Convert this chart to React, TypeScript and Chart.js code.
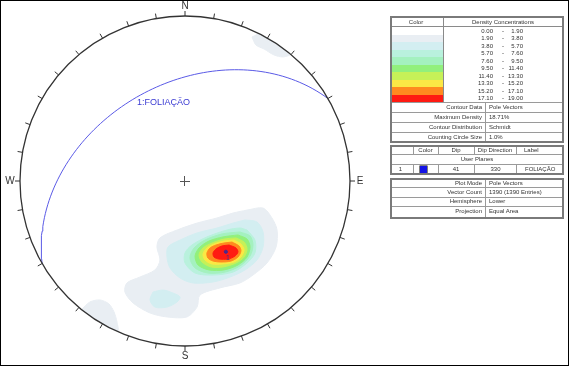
import React, { useEffect, useRef } from "react";
import { Chart, registerables } from "chart.js";

Chart.register(...registerables);

// ---------- DATA ----------
const densityRanges: [string, string][] = [
  ["0.00", "1.90"], ["1.90", "3.80"], ["3.80", "5.70"], ["5.70", "7.60"], ["7.60", "9.50"],
  ["9.50", "11.40"], ["11.40", "13.30"], ["13.30", "15.20"], ["15.20", "17.10"], ["17.10", "19.00"],
];
const densityColors = [
  "#ffffff", "#e9eef3", "#d3eef1", "#b9f1dd", "#a4f1bf",
  "#92f07c", "#c6f158", "#fbe845", "#ff8a1f", "#ff1a12",
];
const contourInfo: [string, string][] = [
  ["Contour Data", "Pole Vectors"],
  ["Maximum Density", "18.71%"],
  ["Contour Distribution", "Schmidt"],
  ["Counting Circle Size", "1.0%"],
];
const planeHeaders = ["", "Color", "Dip", "Dip Direction", "Label"];
const planeId = 1;
const planeColor = "#1414e6";
const planeDip = 41;
const planeDipDir = 330;
const planeLabel = "FOLIAÇÃO";
const plotInfo: [string, string][] = [
  ["Plot Mode", "Pole Vectors"],
  ["Vector Count", "1390 (1390 Entries)"],
  ["Hemisphere", "Lower"],
  ["Projection", "Equal Area"],
];
const compassLabels: [string, number][] = [["N", 0], ["E", 90], ["S", 180], ["W", 270]];

// contour polygons in net units (radius = 1), x = east, y = north
const grayMain = [
  [0.376, -0.176], [0.473, -0.164], [0.527, -0.224], [0.558, -0.297], [0.552, -0.4], [0.497, -0.497],
  [0.412, -0.57], [0.333, -0.618], [0.212, -0.648], [0.091, -0.691], [0.073, -0.764], [0.012, -0.824],
  [-0.109, -0.824], [-0.212, -0.8], [-0.315, -0.739], [-0.364, -0.673], [-0.352, -0.618], [-0.273, -0.582],
  [-0.182, -0.539], [-0.152, -0.479], [-0.17, -0.4], [-0.152, -0.345], [-0.048, -0.297], [0.073, -0.255],
  [0.194, -0.224], [0.291, -0.194],
];
const grayNE = [
  [0.406, 0.873], [0.467, 0.897], [0.552, 0.867], [0.612, 0.818], [0.642, 0.77],
  [0.594, 0.752], [0.539, 0.764], [0.479, 0.8], [0.43, 0.824],
];
const graySW = [
  [-0.624, -0.776], [-0.576, -0.733], [-0.515, -0.721], [-0.461, -0.745], [-0.43, -0.794],
  [-0.412, -0.855], [-0.406, -0.915], [-0.455, -0.891], [-0.515, -0.855], [-0.576, -0.818],
];
const cyanMain = [
  [0.364, -0.236], [0.436, -0.248], [0.473, -0.309], [0.473, -0.4], [0.436, -0.479], [0.364, -0.539],
  [0.273, -0.582], [0.17, -0.612], [0.048, -0.618], [-0.03, -0.588], [-0.091, -0.527], [-0.109, -0.461],
  [-0.103, -0.4], [-0.03, -0.358], [0.073, -0.315], [0.194, -0.285], [0.291, -0.255],
];
const cyanPatch = [
  [-0.194, -0.673], [-0.133, -0.661], [-0.073, -0.679], [-0.03, -0.703],
  [-0.048, -0.733], [-0.109, -0.764], [-0.182, -0.764], [-0.212, -0.721],
];
const aqua = [
  [0.376, -0.297], [0.424, -0.358], [0.424, -0.436], [0.376, -0.497], [0.291, -0.552], [0.17, -0.57],
  [0.061, -0.558], [0.0, -0.497], [0.0, -0.436], [0.042, -0.388], [0.133, -0.339], [0.255, -0.297], [0.333, -0.285],
];
const lightGreen = [
  [0.333, -0.309], [0.394, -0.333], [0.412, -0.388], [0.394, -0.455], [0.333, -0.515], [0.242, -0.552],
  [0.139, -0.558], [0.061, -0.527], [0.03, -0.467], [0.055, -0.406], [0.121, -0.358], [0.224, -0.321],
];
const green = [
  [0.321, -0.327], [0.376, -0.352], [0.394, -0.4], [0.376, -0.461], [0.321, -0.509], [0.236, -0.539],
  [0.145, -0.539], [0.079, -0.509], [0.061, -0.455], [0.085, -0.406], [0.145, -0.364], [0.23, -0.339],
];
const yellowGreen = [
  [0.309, -0.345], [0.358, -0.37], [0.376, -0.412], [0.358, -0.461], [0.309, -0.497], [0.23, -0.521],
  [0.158, -0.521], [0.103, -0.491], [0.085, -0.448], [0.109, -0.406], [0.164, -0.376], [0.236, -0.352],
];
const yellow = [
  [0.297, -0.358], [0.339, -0.382], [0.358, -0.418], [0.339, -0.461], [0.297, -0.491], [0.224, -0.503],
  [0.164, -0.503], [0.121, -0.479], [0.109, -0.442], [0.133, -0.406], [0.176, -0.382], [0.236, -0.364],
];
const orange = [
  [0.285, -0.37], [0.327, -0.394], [0.339, -0.424], [0.321, -0.461], [0.279, -0.485], [0.218, -0.491],
  [0.17, -0.485], [0.139, -0.467], [0.133, -0.436], [0.152, -0.406], [0.188, -0.388], [0.236, -0.376],
];
const red = [
  [0.267, -0.388], [0.309, -0.406], [0.321, -0.43], [0.303, -0.455], [0.261, -0.473],
  [0.206, -0.473], [0.176, -0.461], [0.17, -0.436], [0.188, -0.412], [0.224, -0.394],
];
const contourLevels: { level: number; polys: number[][][] }[] = [
  { level: 1, polys: [grayMain, grayNE, graySW] },
  { level: 2, polys: [cyanMain, cyanPatch] },
  { level: 3, polys: [aqua] },
  { level: 4, polys: [lightGreen] },
  { level: 5, polys: [green] },
  { level: 6, polys: [yellowGreen] },
  { level: 7, polys: [yellow] },
  { level: 8, polys: [orange] },
  { level: 9, polys: [red] },
];

// ---------- projection helpers ----------
const rad = (d: number) => (d * Math.PI) / 180;
function projectVector(e: number, n: number, d: number) {
  const h = Math.sqrt(e * e + n * n);
  const r = Math.sqrt(Math.max(0, 1 - d));
  if (h < 1e-9) return { x: 0, y: 0 };
  return { x: (r * e) / h, y: (r * n) / h };
}
function greatCircle(dip: number, dipDir: number) {
  const strike = rad(dipDir - 90);
  const s = [Math.sin(strike), Math.cos(strike), 0];
  const dv = [Math.sin(rad(dipDir)) * Math.cos(rad(dip)), Math.cos(rad(dipDir)) * Math.cos(rad(dip)), Math.sin(rad(dip))];
  const pts: { x: number; y: number }[] = [];
  for (let t = 0; t <= 180; t += 2) {
    const c = Math.cos(rad(t)), sn = Math.sin(rad(t));
    pts.push(projectVector(c * s[0] + sn * dv[0], c * s[1] + sn * dv[1], c * s[2] + sn * dv[2]));
  }
  return pts;
}
function poleOf(dip: number, dipDir: number) {
  const trend = rad(dipDir - 180);
  const plunge = rad(90 - dip);
  return projectVector(Math.cos(plunge) * Math.sin(trend), Math.cos(plunge) * Math.cos(trend), Math.sin(plunge));
}

const FONT = "'Liberation Sans', Arial, sans-serif";

const stereoPlugin = {
  id: "stereo",
  beforeDatasetsDraw(chart: any) {
    const { ctx, scales } = chart;
    const cx = scales.x.getPixelForValue(0);
    const cy = scales.y.getPixelForValue(0);
    const R = scales.x.getPixelForValue(1) - cx;
    ctx.save();
    ctx.beginPath();
    ctx.arc(cx, cy, R, 0, Math.PI * 2);
    ctx.clip();
  },
  afterDatasetsDraw(chart: any) {
    const { ctx, scales } = chart;
    ctx.restore();
    const cx = scales.x.getPixelForValue(0);
    const cy = scales.y.getPixelForValue(0);
    const R = scales.x.getPixelForValue(1) - cx;
    ctx.save();
    // primitive circle
    ctx.strokeStyle = "#333";
    ctx.lineWidth = 1.3;
    ctx.beginPath();
    ctx.arc(cx, cy, R, 0, Math.PI * 2);
    ctx.stroke();
    // ticks
    ctx.lineWidth = 1;
    for (let a = 0; a < 360; a += 10) {
      const sx = Math.sin(rad(a)), sy = -Math.cos(rad(a));
      ctx.beginPath();
      ctx.moveTo(cx + sx * R, cy + sy * R);
      ctx.lineTo(cx + sx * (R + 5), cy + sy * (R + 5));
      ctx.stroke();
    }
    // compass labels
    ctx.fillStyle = "#333";
    ctx.font = `10px ${FONT}`;
    ctx.textAlign = "center";
    ctx.textBaseline = "middle";
    for (const [lab, az] of compassLabels) {
      const sx = Math.sin(rad(az)), sy = -Math.cos(rad(az));
      ctx.fillText(lab, cx + sx * (R + 10), cy + sy * (R + 10) + 0.5);
    }
    // centre cross
    ctx.strokeStyle = "#555";
    ctx.lineWidth = 1;
    ctx.beginPath();
    ctx.moveTo(cx - 5, cy + 0.5); ctx.lineTo(cx + 5, cy + 0.5);
    ctx.moveTo(cx - 0.5, cy - 5); ctx.lineTo(cx - 0.5, cy + 5);
    ctx.stroke();
    // plane label
    ctx.fillStyle = "#3a3ad2";
    ctx.font = `9px ${FONT}`;
    ctx.textAlign = "left";
    ctx.fillText(`${planeId}:${planeLabel}`, scales.x.getPixelForValue(-0.291), scales.y.getPixelForValue(0.473));
    // pole label
    const p = poleOf(planeDip, planeDipDir);
    ctx.fillStyle = "#4b2a8c";
    ctx.font = `7px ${FONT}`;
    ctx.textAlign = "center";
    ctx.fillText(String(planeId), scales.x.getPixelForValue(p.x) + 2, scales.y.getPixelForValue(p.y) + 6);
    ctx.restore();
  },
};

function Line({ x, y, w, h, c }: { x: number; y: number; w: number; h: number; c: string }) {
  return <div style={{ position: "absolute", left: x, top: y, width: w, height: h, background: c }} />;
}
function Txt({ x, y, t, a = "l" }: { x: number; y: number; t: string; a?: string }) {
  const tx = a === "r" ? "-100%" : a === "c" ? "-50%" : "0";
  return (
    <div
      style={{
        position: "absolute", left: x, top: y, transform: `translate(${tx},-50%)`,
        font: `6px ${FONT}`, color: "#333", whiteSpace: "nowrap", lineHeight: "7px",
      }}
    >
      {t}
    </div>
  );
}
function Box({ x, y, w, h }: { x: number; y: number; w: number; h: number }) {
  return (
    <div style={{ position: "absolute", left: x, top: y, width: w, height: h, border: "2px solid #7a7a7a", boxSizing: "border-box" }} />
  );
}

function Tables() {
  const L = 390, W = 174, RGT = 564;
  const items: React.ReactNode[] = [];
  // table 1
  items.push(<Line key="t1h" x={L} y={26} w={W} h={1} c="#8a8a8a" />);
  items.push(<Txt key="t1c" x={416} y={21.5} t="Color" a="c" />);
  items.push(<Txt key="t1d" x={503} y={21.5} t="Density Concentrations" a="c" />);
  items.push(<Line key="t1v" x={443} y={17} w={1} h={85} c="#8a8a8a" />);
  densityRanges.forEach((r, i) => {
    const top = 27 + 7.5 * i;
    items.push(<Line key={"sw" + i} x={392} y={top} w={51} h={7.5} c={densityColors[i]} />);
    items.push(<Txt key={"ra" + i} x={493} y={top + 3.8} t={r[0]} a="r" />);
    items.push(<Txt key={"rd" + i} x={503} y={top + 3.8} t="-" a="c" />);
    items.push(<Txt key={"rb" + i} x={523} y={top + 3.8} t={r[1]} a="r" />);
  });
  contourInfo.forEach((r, k) => {
    const top = 102 + 10 * k;
    items.push(<Line key={"cl" + k} x={L} y={top} w={W} h={1} c="#9a9a9a" />);
    items.push(<Txt key={"ck" + k} x={482} y={top + 5} t={r[0]} a="r" />);
    items.push(<Txt key={"cv" + k} x={489} y={top + 5} t={r[1]} />);
  });
  items.push(<Line key="t1v2" x={485} y={102} w={1} h={41} c="#9a9a9a" />);
  items.push(<Box key="t1b" x={L} y={16} w={W} h={127} />);
  // table 2
  const cols = [413, 438, 474, 516];
  items.push(<Line key="t2l1" x={L} y={154} w={W} h={1} c="#9a9a9a" />);
  items.push(<Line key="t2l2" x={L} y={163.5} w={W} h={1} c="#9a9a9a" />);
  cols.forEach((c, i) => {
    items.push(<Line key={"t2va" + i} x={c} y={145} w={1} h={9} c="#9a9a9a" />);
    items.push(<Line key={"t2vb" + i} x={c} y={164} w={1} h={11} c="#9a9a9a" />);
  });
  const hx = [401.5, 425.5, 456, 495, 524];
  planeHeaders.forEach((h, i) => {
    if (h) items.push(<Txt key={"ph" + i} x={hx[i]} y={149.8} t={h} a={i === 4 ? "l" : "c"} />);
  });
  items.push(<Txt key="up" x={477} y={158.8} t="User Planes" a="c" />);
  items.push(<Txt key="pid" x={400.5} y={169.3} t={String(planeId)} a="c" />);
  items.push(
    <div key="pcol" style={{ position: "absolute", left: 420, top: 166, width: 7, height: 6.5, background: planeColor, boxShadow: "0 0 0 0.5px #000" }} />
  );
  items.push(<Txt key="pdip" x={456} y={169.3} t={String(planeDip)} a="c" />);
  items.push(<Txt key="pdd" x={495.5} y={169.3} t={String(planeDipDir)} a="c" />);
  items.push(<Txt key="plab" x={525} y={169.3} t={planeLabel} />);
  items.push(<Box key="t2b" x={L} y={145} w={W} h={30} />);
  // table 3
  plotInfo.forEach((r, k) => {
    const top = 178 + 9.3 * k;
    if (k > 0) items.push(<Line key={"pl" + k} x={L} y={top} w={W} h={1} c="#9a9a9a" />);
    items.push(<Txt key={"pk" + k} x={482} y={top + 4.8} t={r[0]} a="r" />);
    items.push(<Txt key={"pv" + k} x={489} y={top + 4.8} t={r[1]} />);
  });
  items.push(<Line key="t3v" x={485} y={178} w={1} h={41} c="#9a9a9a" />);
  items.push(<Box key="t3b" x={L} y={178} w={W} h={41} />);
  void RGT;
  return <>{items}</>;
}

export default function App() {
  const ref = useRef<HTMLCanvasElement | null>(null);
  useEffect(() => {
    if (!ref.current) return;
    const datasets: any[] = [];
    contourLevels.forEach(({ level, polys }) => {
      polys.forEach((poly) => {
        const data = poly.map(([x, y]) => ({ x, y }));
        data.push({ x: poly[0][0], y: poly[0][1] });
        datasets.push({
          type: "scatter",
          data,
          showLine: true,
          fill: "shape",
          backgroundColor: densityColors[level],
          borderColor: densityColors[level],
          borderWidth: 1,
          pointRadius: 0,
          tension: 0.3,
          order: 20 - level,
        });
      });
    });
    datasets.push({
      type: "scatter",
      data: greatCircle(planeDip, planeDipDir),
      showLine: true,
      fill: false,
      borderColor: "#5a5ae6",
      borderWidth: 1,
      pointRadius: 0,
      tension: 0,
      order: 1,
    });
    datasets.push({
      type: "scatter",
      data: [poleOf(planeDip, planeDipDir)],
      pointRadius: 1.6,
      pointBackgroundColor: "#4b2a8c",
      pointBorderColor: "#4b2a8c",
      order: 0,
    });
    const chart = new Chart(ref.current, {
      type: "scatter",
      data: { datasets },
      options: {
        animation: false,
        responsive: false,
        devicePixelRatio: 1,
        layout: { padding: { left: 20, right: 219, top: 16, bottom: 21 } },
        scales: {
          x: { type: "linear", min: -1, max: 1, display: false },
          y: { type: "linear", min: -1, max: 1, display: false },
        },
        plugins: { legend: { display: false }, tooltip: { enabled: false } },
        events: [],
      },
      plugins: [stereoPlugin],
    } as any);
    return () => chart.destroy();
  }, []);
  return (
    <div style={{ position: "absolute", left: 0, top: 0, width: 569, height: 367, background: "#fff", overflow: "hidden" }}>
      <canvas ref={ref} width={569} height={367} style={{ position: "absolute", left: 0, top: 0 }} />
      <Tables />
      <div style={{ position: "absolute", left: 0, top: 0, width: 569, height: 366, border: "1px solid #000", boxSizing: "border-box" }} />
    </div>
  );
}
